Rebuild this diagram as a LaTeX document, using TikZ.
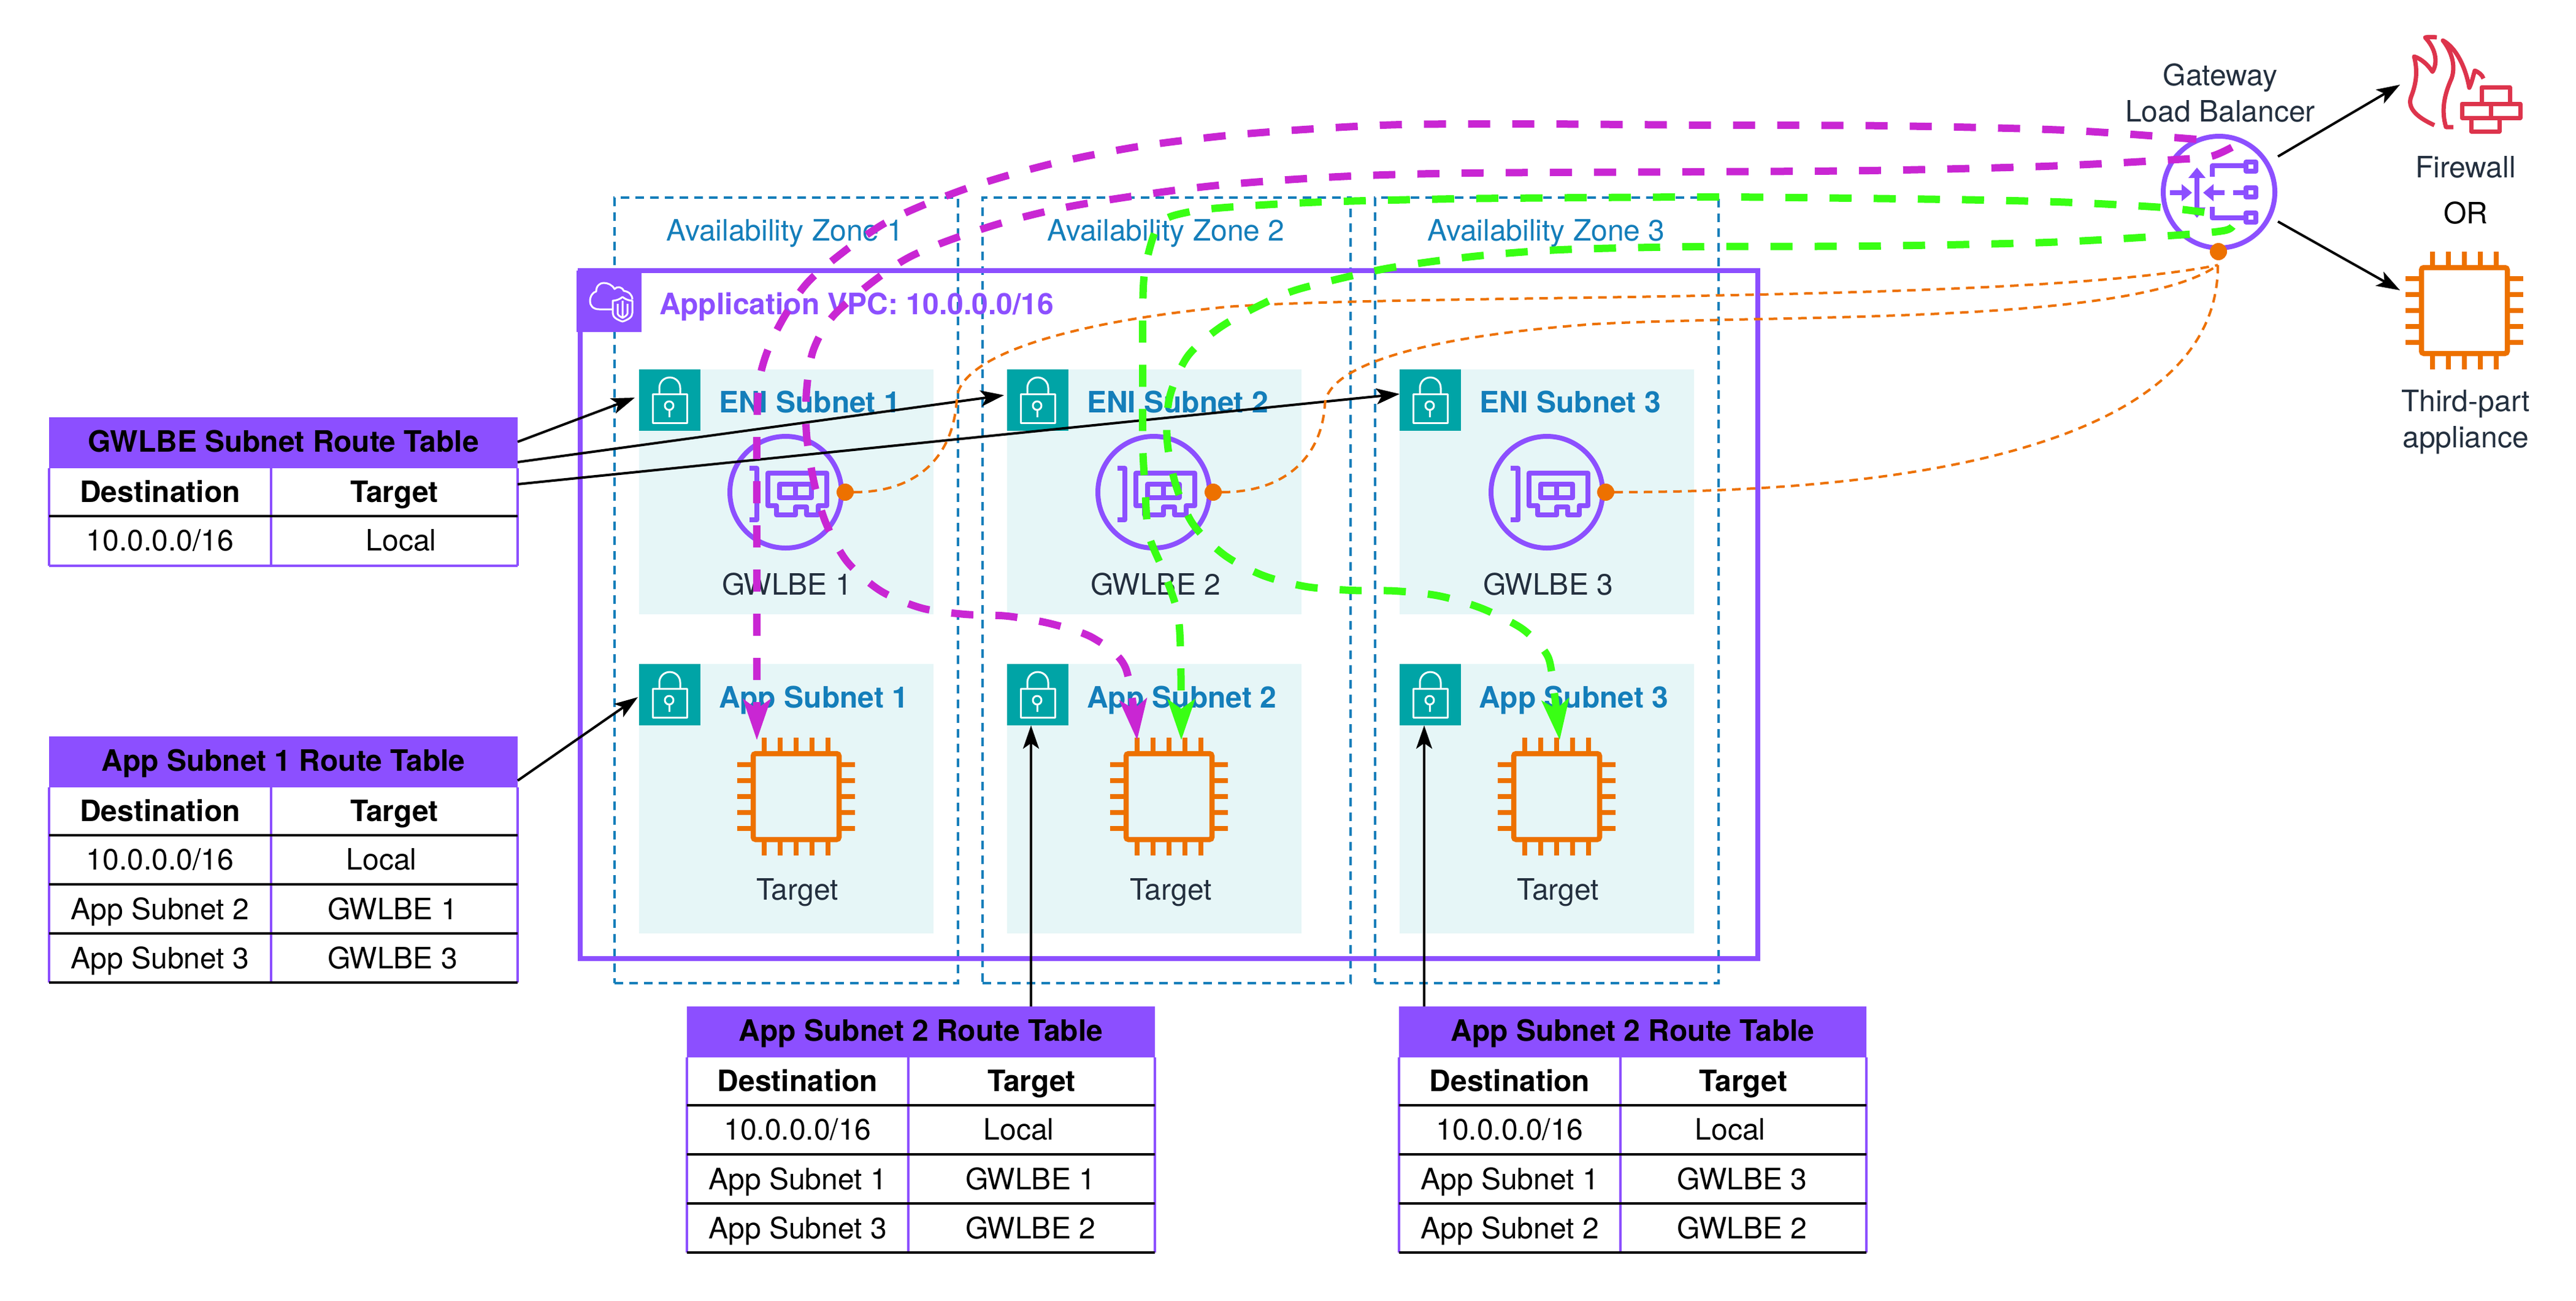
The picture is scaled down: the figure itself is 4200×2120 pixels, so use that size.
\documentclass[tikz,border=0pt]{standalone}
\usepackage{fontspec}
\setmainfont{TeX Gyre Heros}
\usetikzlibrary{arrows.meta}
\definecolor{awspurple}{HTML}{8C4FFF}
\definecolor{awsteal}{HTML}{00A4A6}
\definecolor{awstint}{HTML}{E6F6F7}
\definecolor{awsblue}{HTML}{147EBA}
\definecolor{awsink}{HTML}{232F3E}
\definecolor{awsorange}{HTML}{ED7100}
\definecolor{awsred}{HTML}{DD344C}
\definecolor{flowm}{HTML}{C926D3}
\definecolor{flowg}{HTML}{39FF14}
\tikzset{
  every node/.style={inner sep=0pt,outer sep=0pt},
  lbl/.style={font=\fontsize{9.6}{11.8}\selectfont,text height=6.4pt,text depth=0pt},
  mlbl/.style={font=\fontsize{9.6}{11.8}\selectfont,align=center,text=awsink},
  bolbl/.style={lbl,font=\fontsize{9.6}{11.8}\selectfont\bfseries},
  ink/.style={lbl,text=awsink},
  azlabel/.style={lbl,text=awsblue},
  subnetlabel/.style={bolbl,text=awsblue,anchor=west},
  azbox/.style={draw=awsblue,line width=.8pt,dash pattern=on 2.8pt off 2pt,minimum height=256pt},
  vpcbox/.style={draw=awspurple,line width=1.6pt},
  subnetbox/.style={fill=awstint},
  lockbox/.style={fill=awsteal,minimum width=20pt,minimum height=20pt},
  whiteline/.style={draw=white,line width=.6pt,line join=round},
  endpoint/.style={circle,draw=awspurple,line width=1.6pt,minimum size=36.4pt},
  iconp/.style={draw=awspurple,line width=1.55pt,line join=round},
  iconarrow/.style={draw=awspurple,line width=1.55pt},
  port/.style={circle,fill=awsorange,minimum size=5.6pt},
  chipbody/.style={draw=awsorange,line width=1.7pt,rounded corners=.8pt,minimum size=28pt},
  chippin/.style={draw=awsorange,line width=1.7pt},
  thead/.style={fill=awspurple,minimum height=16.6pt},
  tgrid/.style={draw=black,line width=.8pt},
  tside/.style={draw=awspurple,line width=.8pt},
  blackarrow/.style={draw=black,line width=.8pt,-{Stealth[length=7.6pt,width=5.2pt,inset=1.8pt]}},
  flow/.style={draw=#1,fill=none,line width=2.4pt,dash pattern=on 7.2pt off 7.2pt,-{Stealth[length=13.2pt,width=8.8pt,inset=3pt,fill=#1]}},
  tunnel/.style={draw=awsorange,line width=.8pt,dash pattern=on 2.8pt off 2pt},
}
\newcommand{\lockicon}[2]{%
  \begin{scope}[shift={(#1,#2)}]
    \draw[whiteline] (22.5,40) rectangle (78,87);
    \draw[whiteline] (33,40) -- (33,30) arc[start angle=180,end angle=360,x radius=17,y radius=17] -- (67,40);
    \draw[whiteline] (49,59) circle[radius=7];
    \draw[whiteline] (49,66) -- (49,78);
  \end{scope}}
\newcommand{\nicicon}[2]{%
  \begin{scope}[shift={(#1,#2)}]
    \draw[iconp] (-59,-39) -- (-47,-39) -- (-47,45) -- (-59,45);
    \draw[iconp] (-29,-31) -- (67,-31) -- (67,22) -- (53,22) -- (53,37) -- (34,37) -- (34,24) -- (16,24) -- (16,37) -- (-15,37) -- (-15,22) -- (-29,22) -- cycle;
    \draw[iconp] (-10,-13) rectangle (42,9);
    \draw[iconp] (16,-13) -- (16,9);
  \end{scope}}
\newcommand{\chippins}[2]{%
  \begin{scope}[shift={(#1,#2)}]
    \foreach \o in {-52,-26,0,26,52} {
      \draw[chippin] (\o,-96) -- (\o,-74);
      \draw[chippin] (\o,74) -- (\o,96);
      \draw[chippin] (-96,\o) -- (-74,\o);
      \draw[chippin] (74,\o) -- (96,\o);
    }
  \end{scope}}
% name, xL, xM, xR, ytop, title, ybottom
\newcommand{\tablehead}[7]{%
  \node[thead,minimum width=0.2pt*(#4-#2)] (#1) at ({(#2+#4)/2},{#5+41.5}) {};
  \node[bolbl] (#1title) at ({(#2+#4)/2},{#5+40}) {#6};
  \node[bolbl] (#1dest) at ({(#2+#3)/2},{#5+122}) {Destination};
  \node[bolbl] (#1targ) at ({(#3+#4)/2},{#5+122}) {Target};
  \draw[tside] (#2,#5+83) -- (#2,#7);
  \draw[tside] (#3,#5+83) -- (#3,#7);
  \draw[tside] (#4,#5+83) -- (#4,#7);}
\newcommand{\tablerow}[8]{% name, xL, xM, xR, ytext, dest, target, target x
  \node[lbl] (#1a) at ({(#2+#3)/2},#5) {#6};
  \node[lbl] (#1b) at (#8,#5) {#7};}
\begin{document}
\begin{tikzpicture}[x=0.2pt,y=-0.2pt]
\useasboundingbox (0,0) rectangle (4200,2120);
\fill[white] (0,0) rectangle (4200,2120);

% availability zones
\node[azbox,minimum width=112pt] (az1) at (1282,962) {};
\node[azbox,minimum width=120pt] (az2) at (1902,962) {};
\node[azbox,minimum width=112pt] (az3) at (2522,962) {};
\node[azlabel] (az1l) at (1280,376) {Availability Zone 1};
\node[azlabel] (az2l) at (1901,376) {Availability Zone 2};
\node[azlabel] (az3l) at (2521,376) {Availability Zone 3};

% VPC
\node[vpcbox,minimum width=384pt,minimum height=224.2pt] (vpc) at (1906,1001.5) {};
\node[fill=awspurple,minimum width=21.2pt,minimum height=20pt] (vpcicon) at (993,491) {};
\draw[whiteline] (999,504) -- (977,504) .. controls (966,504) and (962,497) .. (962,491) .. controls (962,482) and (967,476) .. (972,475) .. controls (972,466) and (978,461) .. (984,461) .. controls (991,461) and (998,464) .. (1002,471) .. controls (1006,466) and (1014,467) .. (1017,474) .. controls (1025,475) and (1031,480) .. (1031,488);
\draw[whiteline,fill=awspurple] (1015,484) .. controls (1020,488) and (1026,490) .. (1031,490) -- (1031,510) .. controls (1031,517) and (1024,521) .. (1015,524) .. controls (1006,521) and (999,517) .. (999,510) -- (999,490) .. controls (1004,490) and (1010,488) .. (1015,484) -- cycle;
\draw[whiteline] (1015,490) -- (1015,518) (1007,495) -- (1007,511) .. controls (1008,514) and (1011,516) .. (1015,518) .. controls (1019,516) and (1022,514) .. (1023,511) -- (1023,495);
\node[lbl,font=\fontsize{9.6}{11.8}\selectfont\bfseries,text=awspurple,anchor=west] (vpcl) at (1075,496) {Application VPC: 10.0.0.0/16};

% subnets
\node[subnetbox,minimum width=96pt,minimum height=79.8pt] (eni1) at (1282,801.5) {};
\node[subnetbox,minimum width=96pt,minimum height=79.8pt] (eni2) at (1882,801.5) {};
\node[subnetbox,minimum width=96pt,minimum height=79.8pt] (eni3) at (2522,801.5) {};
\node[subnetbox,minimum width=96pt,minimum height=87.8pt] (app1) at (1282,1301.5) {};
\node[subnetbox,minimum width=96pt,minimum height=87.8pt] (app2) at (1882,1301.5) {};
\node[subnetbox,minimum width=96pt,minimum height=87.8pt] (app3) at (2522,1301.5) {};
\node[lockbox] (locke1) at (1092,652) {};
\node[lockbox] (locke2) at (1692,652) {};
\node[lockbox] (locke3) at (2332,652) {};
\node[lockbox] (locka1) at (1092,1132) {};
\node[lockbox] (locka2) at (1692,1132) {};
\node[lockbox] (locka3) at (2332,1132) {};
\lockicon{1042}{602}\lockicon{1642}{602}\lockicon{2282}{602}
\lockicon{1042}{1082}\lockicon{1642}{1082}\lockicon{2282}{1082}
\node[subnetlabel] (eni1l) at (1172,656) {ENI Subnet 1};
\node[subnetlabel] (eni2l) at (1772,656) {ENI Subnet 2};
\node[subnetlabel] (eni3l) at (2412,656) {ENI Subnet 3};
\node[subnetlabel] (app1l) at (1172,1137) {App Subnet 1};
\node[subnetlabel] (app2l) at (1772,1137) {App Subnet 2};
\node[subnetlabel] (app3l) at (2411,1137) {App Subnet 3};

% gateway load balancer endpoints
\node[endpoint] (ep1) at (1281,802) {};
\node[endpoint] (ep2) at (1881,802) {};
\node[endpoint] (ep3) at (2522,802) {};
\nicicon{1281}{802}\nicicon{1881}{802}\nicicon{2522}{802}
\node[ink] (ep1l) at (1283,953) {GWLBE 1};
\node[ink] (ep2l) at (1884,953) {GWLBE 2};
\node[ink] (ep3l) at (2524,953) {GWLBE 3};

% targets
\node[chipbody] (chip1) at (1298,1298) {};
\node[chipbody] (chip2) at (1906,1298) {};
\node[chipbody] (chip3) at (2538,1298) {};
\chippins{1298}{1298}\chippins{1906}{1298}\chippins{2538}{1298}
\node[ink] (t1l) at (1300,1450) {Target};
\node[ink] (t2l) at (1909,1450) {Target};
\node[ink] (t3l) at (2540,1450) {Target};

% gateway load balancer
\node[endpoint] (gwlb) at (3618,313) {};
\node[mlbl] (gwlbl) at (3620,151) {Gateway\\Load Balancer};
\begin{scope}
  \draw[iconp] (3607,288) -- (3607,270) -- (3659,270);
  \draw[iconp] (3607,337) -- (3607,355) -- (3659,355);
  \draw[iconp] (3641,314) -- (3659,314);
  \draw[iconp] (3662,264) rectangle (3678,279);
  \draw[iconp] (3662,306) rectangle (3678,321);
  \draw[iconp] (3662,347) rectangle (3678,362);
  \draw[iconarrow,{Stealth[length=3.4pt,width=5.4pt,inset=0pt]}-{Stealth[length=3.4pt,width=5.4pt,inset=0pt]}] (3582,273) -- (3582,355);
  \draw[iconarrow,-{Stealth[length=3.4pt,width=5.4pt,inset=0pt]}] (3627,314) -- (3592,314);
  \draw[iconarrow,-{Stealth[length=3.4pt,width=5.4pt,inset=0pt]}] (3538,314) -- (3574,314);
\end{scope}

% firewall
\begin{scope}[draw=awsred,line width=1.4pt,line join=round]
  \draw (3969,204) .. controls (3938,190) and (3925,175) .. (3931,158) .. controls (3940,135) and (3942,115) .. (3936,92) .. controls (3948,96) and (3958,105) .. (3966,117) .. controls (3976,100) and (3970,78) .. (3954,61) .. controls (3960,60) and (3967,60) .. (3973,61);
  \draw (4000,207) -- (3988,207) .. controls (3980,180) and (3985,155) .. (3997,128) .. controls (4004,108) and (3998,85) .. (3983,66) .. controls (4005,78) and (4020,110) .. (4026,143) .. controls (4030,135) and (4032,125) .. (4035,115) .. controls (4042,118) and (4047,122) .. (4049,128);
  \draw (4046,166) -- (4046,142) -- (4092,142) -- (4092,166);
  \draw (4014,169) rectangle (4109,192);
  \draw (4061,169) -- (4061,192);
  \draw (4029,192) -- (4029,214) -- (4075,214) -- (4075,192);
\end{scope}
\node[ink] (fwl) at (4020,273) {Firewall};
\node[lbl] (orl) at (4020,348) {OR};
\node[chipbody] (chip4) at (4018,506) {};
\chippins{4018}{506}
\node[mlbl] (tpl) at (4020,688) {Third-part\\appliance};

% route tables
\tablehead{tg}{80}{442}{844}{680}{GWLBE Subnet Route Table}{922}
\draw[tgrid] (80,841) -- (844,841);
\draw[tside] (80,922) -- (844,922);
\tablerow{tgr}{80}{442}{844}{881}{10.0.0.0/16}{Local}{654}

\tablehead{ta}{80}{442}{844}{1200}{App Subnet 1 Route Table}{1601}
\draw[tgrid] (80,1361) -- (844,1361) (80,1441) -- (844,1441) (80,1521) -- (844,1521) (80,1601) -- (844,1601);
\tablerow{tar}{80}{442}{844}{1401}{10.0.0.0/16}{Local}{622}
\tablerow{tas}{80}{442}{844}{1482}{App Subnet 2}{GWLBE 1}{640}
\tablerow{tat}{80}{442}{844}{1562}{App Subnet 3}{GWLBE 3}{640}

\tablehead{tb}{1120}{1481}{1883}{1640}{App Subnet 2 Route Table}{2041}
\draw[tgrid] (1120,1801) -- (1883,1801) (1120,1881) -- (1883,1881) (1120,1961) -- (1883,1961) (1120,2041) -- (1883,2041);
\tablerow{tbr}{1120}{1481}{1883}{1841}{10.0.0.0/16}{Local}{1661}
\tablerow{tbs}{1120}{1481}{1883}{1922}{App Subnet 1}{GWLBE 1}{1680}
\tablerow{tbt}{1120}{1481}{1883}{2002}{App Subnet 3}{GWLBE 2}{1680}

\tablehead{tc}{2281}{2642}{3043}{1640}{App Subnet 2 Route Table}{2041}
\draw[tgrid] (2281,1801) -- (3043,1801) (2281,1881) -- (3043,1881) (2281,1961) -- (3043,1961) (2281,2041) -- (3043,2041);
\tablerow{tcr}{2281}{2642}{3043}{1841}{10.0.0.0/16}{Local}{2821}
\tablerow{tcs}{2281}{2642}{3043}{1922}{App Subnet 1}{GWLBE 3}{2840}
\tablerow{tct}{2281}{2642}{3043}{2002}{App Subnet 2}{GWLBE 2}{2840}

% association arrows
\coordinate (tgout1) at (844,720);
\coordinate (tgout2) at (844,753);
\coordinate (tgout3) at (844,789);
\coordinate (taout) at (844,1272);
\coordinate (tbout) at (1681,1640);
\coordinate (tcout) at (2322,1640);
\coordinate (toeni1) at (1035,648);
\coordinate (toeni2) at (1637,644);
\coordinate (toeni3) at (2282,642);
\coordinate (toapp1) at (1040,1136);
\coordinate (toapp2) at (1681,1182);
\coordinate (toapp3) at (2322,1182);
\coordinate (gwlbup) at (3714,255);
\coordinate (gwlbdn) at (3714,361);
\coordinate (tofw) at (3913,138);
\coordinate (toap) at (3913,473);
\draw[blackarrow] (tgout1) -- (toeni1);
\draw[blackarrow] (tgout2) -- (toeni2);
\draw[blackarrow] (tgout3) -- (toeni3);
\draw[blackarrow] (taout) -- (toapp1);
\draw[blackarrow] (tbout) -- (toapp2);
\draw[blackarrow] (tcout) -- (toapp3);
\draw[blackarrow] (gwlbup) -- (tofw);
\draw[blackarrow] (gwlbdn) -- (toap);

% tunnels
\node[port] (p1) at (1378,802) {};
\node[port] (p2) at (1978,802) {};
\node[port] (p3) at (2618,802) {};
\node[port] (p4) at (3617,410) {};
\coordinate (p4in) at (3616,432);
\draw[tunnel] (p1) .. controls (1500,802) and (1555,740) .. (1560,650) .. controls (1563,590) and (1700,530) .. (2000,500) .. controls (2300,478) and (3300,495) .. (p4in);
\draw[tunnel] (p2) .. controls (2100,802) and (2155,740) .. (2160,660) .. controls (2163,600) and (2300,550) .. (2600,528) .. controls (2900,512) and (3480,530) .. (p4in);
\draw[tunnel] (p3) .. controls (3200,802) and (3617,700) .. (p4in);

% flows
\coordinate (m1s) at (3581,227);
\coordinate (m1e) at (1234,1206);
\coordinate (m2s) at (3639,240);
\coordinate (m2e) at (1854,1206);
\coordinate (g1s) at (3594,346);
\coordinate (g1e) at (1926,1206);
\coordinate (g2s) at (3640,369);
\coordinate (g2e) at (2543,1206);
\draw[flow=flowm] plot[smooth] coordinates {(m1s) (3365,212) (3078,205) (2791,204) (2503,202) (2286,203) (2142,210) (1999,221) (1855,239) (1714,267) (1576,307) (1442,364) (1327,450) (1283,509) (1254,565) (1238,621) (1234,708) (1234,900) (m1e)};
\draw[flow=flowm] plot[smooth] coordinates {(m2s) (3604,255) (3548,260) (3334,271) (3047,278) (2756,280) (2396,282) (2181,288) (1966,304) (1752,335) (1611,370) (1477,422) (1366,507) (1327,568) (1315,637) (1315,708) (1327,785) (1346,851) (1381,915) (1436,963) (1503,991) (1573,1001) (1643,1004) (1716,1017) (1783,1040) (1835,1088) (m2e)};
\draw[flow=flowg] plot[smooth] coordinates {(g1s) (3525,338) (3380,330) (3234,326) (3020,323) (2806,321) (2590,322) (2372,324) (2158,329) (2012,337) (1940,345) (1890,365) (1867,438) (1863,509) (1863,583) (1863,657) (1863,726) (1867,797) (1873,871) (1898,933) (1920,999) (1925,1071) (g1e)};
\draw[flow=flowg] plot[smooth] coordinates {(g2s) (3625,376) (3552,383) (3338,395) (3049,401) (2760,402) (2544,407) (2401,418) (2258,438) (2118,471) (2051,499) (1987,535) (1936,581) (1907,647) (1903,718) (1917,790) (1945,854) (1997,905) (2060,938) (2130,956) (2204,962) (2275,963) (2346,971) (2415,991) (2481,1024) (2519,1062) (2530,1096) (g2e)};
\end{tikzpicture}
\end{document}
